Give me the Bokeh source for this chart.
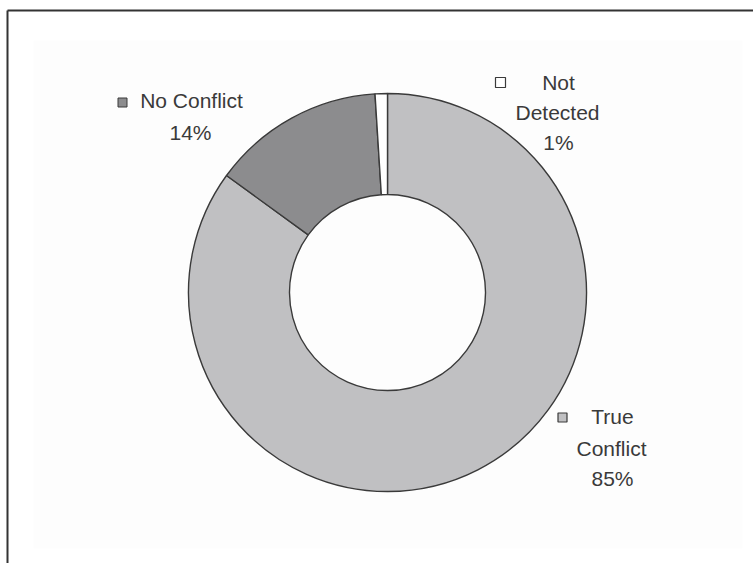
import math
from bokeh.plotting import figure
from bokeh.models import Range1d, ColumnDataSource
from bokeh.core.properties import value
from bokeh.embed import file_html
from bokeh.resources import INLINE

# ---- data ----
categories = ["True Conflict", "No Conflict", "Not Detected"]
percents = [85, 14, 1]
colors = ["#c0c0c2", "#8c8c8e", "#ffffff"]
label_lines = [["True", "Conflict", "85%"], ["No Conflict", "14%"], ["Not", "Detected", "1%"]]

W, H = 753, 563
def Y(s):
    return H - s

p = figure(width=W, height=H, output_backend="svg", toolbar_location=None,
           x_range=Range1d(0, W), y_range=Range1d(0, H), min_border=0,
           background_fill_color="white", border_fill_color="white")
p.axis.visible = False
p.grid.visible = False
p.outline_line_color = None

# faint plot-area background
p.quad(left=[33], right=[742], bottom=[Y(548)], top=[Y(40)],
       fill_color="#fdfdfd", line_color=None)

# frame lines (top and left)
p.segment(x0=[7, 7], y0=[Y(10), Y(10)], x1=[W, 7], y1=[Y(10), 0],
          line_color="#333333", line_width=2)

# donut wedges, clockwise from 12 o'clock
total = float(sum(percents))
starts, ends = [], []
acc = 0.0
for v in percents:
    a0 = math.pi / 2 - 2 * math.pi * acc / total
    acc += v
    a1 = math.pi / 2 - 2 * math.pi * acc / total
    starts.append(a0)
    ends.append(a1)

cx, cy = 387, Y(292)
src = ColumnDataSource(dict(start=starts, end=ends, color=colors, cat=categories))
p.annular_wedge(x=cx, y=cy, inner_radius=98, outer_radius=199,
                start_angle="start", end_angle="end", direction="clock",
                fill_color="color", line_color="#3a3a3a", line_width=1.4, source=src)

# labels
txt_color = "#3a3a3a"
font = value("Liberation Sans")
fs = "21px"

# No Conflict
p.scatter(x=[122], y=[Y(102)], marker="square", size=9,
          fill_color=colors[1], line_color="#3a3a3a", line_width=1)
p.text(x=[191, 190], y=[Y(100), Y(132)], text=label_lines[1],
       text_align="center", text_baseline="middle", text_font=font,
       text_font_size=fs, text_color=txt_color)

# Not Detected
p.scatter(x=[500], y=[Y(82)], marker="square", size=10,
          fill_color=colors[2], line_color="#3a3a3a", line_width=1.2)
p.text(x=[558, 557, 558], y=[Y(82), Y(112), Y(142)], text=label_lines[2],
       text_align="center", text_baseline="middle", text_font=font,
       text_font_size=fs, text_color=txt_color)

# True Conflict
p.scatter(x=[562], y=[Y(417)], marker="square", size=9,
          fill_color=colors[0], line_color="#3a3a3a", line_width=1.2)
p.text(x=[612, 611, 612], y=[Y(416), Y(448), Y(478)], text=label_lines[0],
       text_align="center", text_baseline="middle", text_font=font,
       text_font_size=fs, text_color=txt_color)

open("out.html", "w").write(file_html(p, INLINE))
